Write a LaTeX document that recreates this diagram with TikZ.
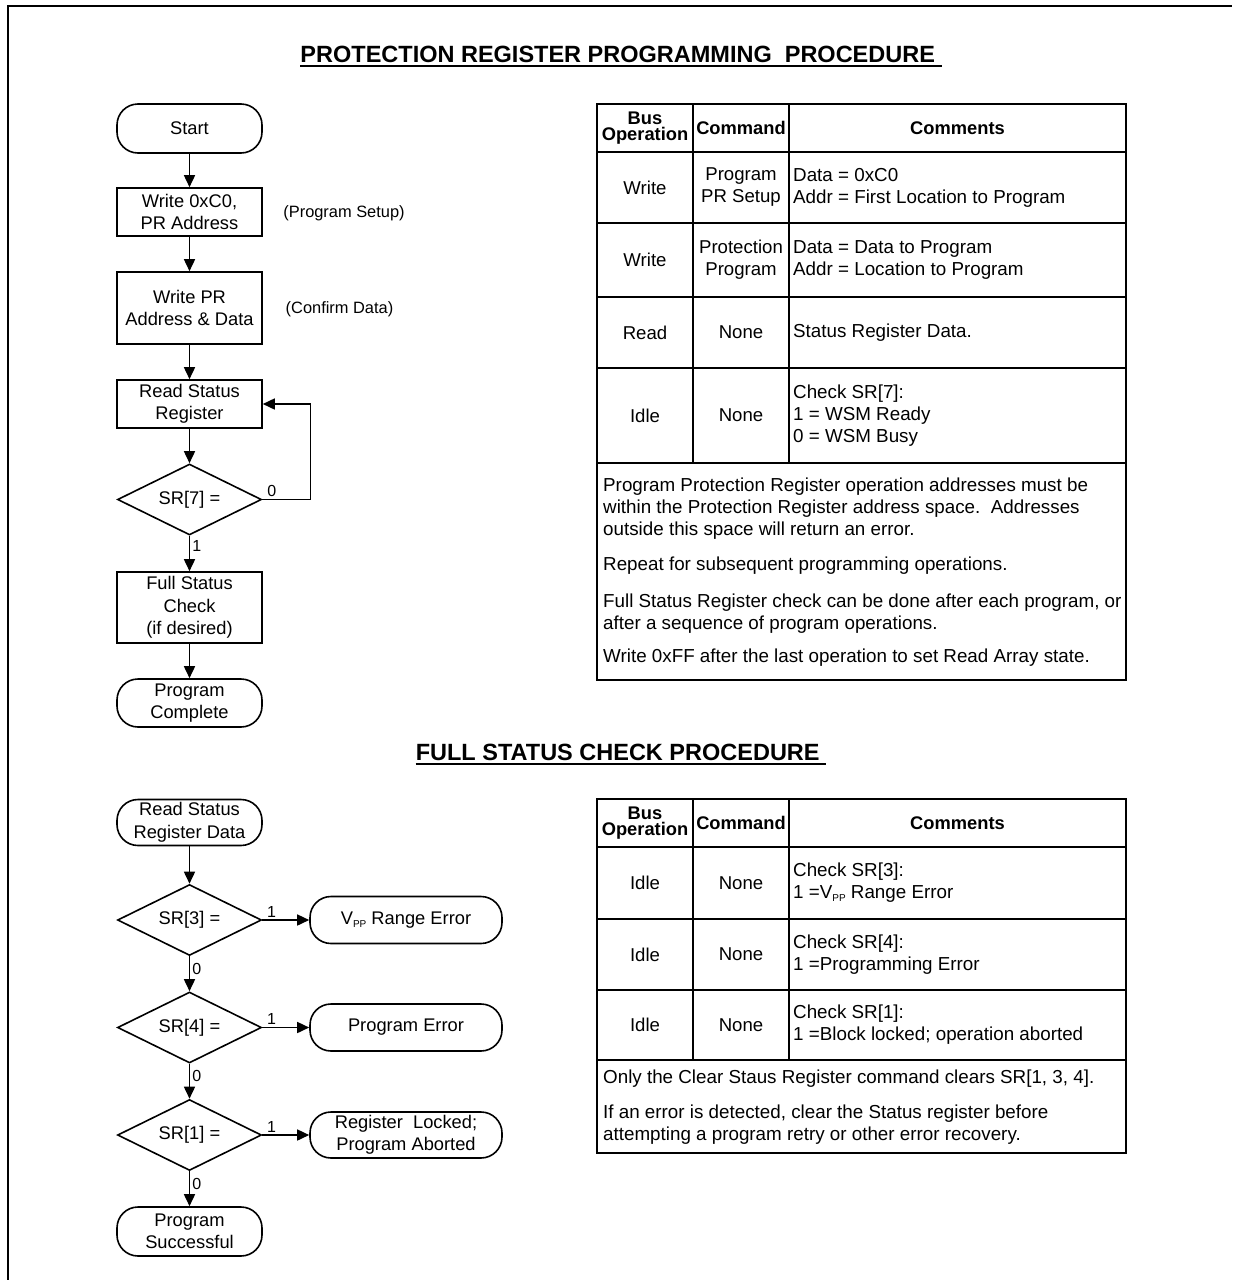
\documentclass[tikz,border=0pt]{standalone}
\usepackage{fontspec}
\setmainfont{Liberation Sans}
\usetikzlibrary{arrows.meta,shapes.geometric,positioning}
\tikzset{
	base text/.style={font=\fontsize{18.3}{22.5}\selectfont, align=center},
	procbox/.style={base text, draw, line width=1.6pt, minimum width=145pt, inner sep=0pt},
	termbox/.style={procbox, rounded corners=21pt},
	decbox/.style={base text, draw, diamond, aspect=2, line width=1.6pt,
		minimum width=144pt, minimum height=71pt, inner sep=0pt},
	flow/.style={line width=1.6pt, -{Triangle[length=12pt,width=11pt]}},
	yesno/.style={font=\fontsize{16}{16}\selectfont, inner sep=2pt},
	side note/.style={font=\fontsize{16.4}{20}\selectfont, inner sep=0pt},
	tbl/.style={line width=1.6pt},
	cell/.style={font=\fontsize{18.6}{22}\selectfont, align=center, inner sep=0pt},
	comment/.style={font=\fontsize{18.8}{22}\selectfont, align=left, anchor=west, inner sep=0pt},
	note/.style={font=\fontsize{18.8}{22}\selectfont, align=left, anchor=base west, inner sep=0pt},
	head/.style={font=\bfseries\fontsize{18.3}{16.5}\selectfont, align=center, inner sep=0pt},
	heading/.style={font=\bfseries\fontsize{23.5}{26}\selectfont, anchor=base, inner sep=0pt}
}
\newcommand{\vpp}{V\raisebox{-3pt}{\fontsize{10}{10}\selectfont PP}}

\begin{document}
\begin{tikzpicture}[x=1pt,y=-1pt]
	\useasboundingbox (0,0) rectangle (1232,1280);
	\draw[line width=2.4pt] (8,1280) -- (8,6) -- (1232,6);
	
	% titles
	\node[heading] (title1) at (621,62) {PROTECTION REGISTER PROGRAMMING\ \ PROCEDURE\ \mbox{}};
	\draw[line width=1.8pt] ([yshift=-4pt]title1.base west) -- ([yshift=-4pt]title1.base east);
	\node[heading] (title2) at (621,760) {FULL STATUS CHECK PROCEDURE\ \mbox{}};
	\draw[line width=1.8pt] ([yshift=-4pt]title2.base west) -- ([yshift=-4pt]title2.base east);
	
	% programming flow
	\node[termbox, minimum height=49pt] (start) at (189.5,128.5) {Start};
	\node[procbox, minimum height=48pt] (setup) at (189.5,212) {Write 0xC0,\\PR Address};
	\node[procbox, minimum height=72pt] (wrdata) at (189.5,308) {Write PR\\Address \& Data};
	\node[procbox, minimum height=48pt] (rdsr) at (189.5,404) {Read Status\\Register};
	\node[decbox] (sr7) at (189.5,499.5) {SR[7] =};
	\node[procbox, minimum height=71pt] (fsc) at (189.5,607.5) {Full Status\\Check\\(if desired)};
	\node[termbox, minimum height=48pt] (pgmdone) at (189.5,703) {Program\\Complete};
	
	\node[side note] (setupnote) at (344,213) {(Program Setup)};
	\node[side note] (confnote) at (339.5,309) {(Confirm Data)};
	
	\draw[flow] (start) -- (setup);
	\draw[flow] (setup) -- (wrdata);
	\draw[flow] (wrdata) -- (rdsr);
	\draw[flow] (rdsr) -- (sr7);
	\draw[flow] (sr7.east) -- node[yesno, above, pos=0.2] {0} ++(48,0) |- (rdsr.east);
	\draw[flow] (sr7) -- node[yesno, right, pos=0.3] {1} (fsc);
	\draw[flow] (fsc) -- (pgmdone);
	
	% full status check flow
	\node[termbox, minimum height=46pt] (rdsrd) at (189.5,822.5) {Read Status\\Register Data};
	\node[decbox] (sr3) at (189.5,920) {SR[3] =};
	\node[termbox, minimum width=192pt, minimum height=47pt] (vpperr) at (406,920) {\vpp\ Range Error};
	\node[decbox] (sr4) at (189.5,1027.5) {SR[4] =};
	\node[termbox, minimum width=192pt, minimum height=47pt] (pgmerr) at (406,1027.5) {Program Error};
	\node[decbox] (sr1) at (189.5,1135) {SR[1] =};
	\node[termbox, minimum width=192pt, minimum height=46pt] (reglock) at (406,1135) {Register\ \ Locked;\\Program Aborted};
	\node[termbox, minimum height=49pt] (pgmok) at (189.5,1231.5) {Program\\Successful};
	
	\draw[flow] (rdsrd) -- (sr3);
	\foreach \d/\t in {sr3/vpperr, sr4/pgmerr, sr1/reglock}
		\draw[flow] (\d) -- node[yesno, above, pos=0.2] {1} (\t);
	\foreach \d/\t in {sr3/sr4, sr4/sr1, sr1/pgmok}
		\draw[flow] (\d) -- node[yesno, right, pos=0.35] {0} (\t);
	
	% programming table
	\draw[tbl] (597,104) rectangle (1126,680);
	\foreach \y in {152,223,297,368,463}
		\draw[tbl] (597,\y) -- (1126,\y);
	\foreach \x in {693,789}
		\draw[tbl] (\x,104) -- (\x,463);
	\node[head] (busop1) at (645,128) {Bus\\Operation};
	\node[head] (cmd1) at (741,128) {Command};
	\node[head] (cmt1) at (957.5,128) {Comments};
	
	\node[cell] (op1) at (645,187.5) {Write};
	\node[cell] (cm1) at (741,187.5) {Program\\PR Setup};
	\node[comment] (ct1) at (793,187.5) {Data = 0xC0\\Addr = First Location to Program};
	\node[cell] (op2) at (645,260) {Write};
	\node[cell] (cm2) at (741,260) {Protection\\Program};
	\node[comment] (ct2) at (793,260) {Data = Data to Program\\Addr = Location to Program};
	\node[cell] (op3) at (645,332.5) {Read};
	\node[cell] (cm3) at (741,332.5) {None};
	\node[comment] (ct3) at (793,332.5) {Status Register Data.};
	\node[cell] (op4) at (645,415.5) {Idle};
	\node[cell] (cm4) at (741,415.5) {None};
	\node[comment] (ct4) at (793,415.5) {Check SR[7]:\\1 = WSM Ready\\0 = WSM Busy};
	
	\node[note] (pnote1) at (603,535) {Program Protection Register operation addresses must be\\within the Protection Register address space.\ \ Addresses\\outside this space will return an error.};
	\node[note] (pnote2) at (603,570) {Repeat for subsequent programming operations.};
	\node[note] (pnote3) at (603,629) {Full Status Register check can be done after each program, or\\after a sequence of program operations.};
	\node[note] (pnote4) at (603,662) {Write 0xFF after the last operation to set Read Array state.};
	
	% status check table
	\draw[tbl] (597,799) rectangle (1126,1153);
	\foreach \y in {847,919,990,1060}
		\draw[tbl] (597,\y) -- (1126,\y);
	\foreach \x in {693,789}
		\draw[tbl] (\x,799) -- (\x,1060);
	\node[head] (busop2) at (645,823) {Bus\\Operation};
	\node[head] (cmd2) at (741,823) {Command};
	\node[head] (cmt2) at (957.5,823) {Comments};
	
	\node[cell] (op5) at (645,883) {Idle};
	\node[cell] (cm5) at (741,883) {None};
	\node[comment] (ct5) at (793,883) {Check SR[3]:\\1 =\vpp\ Range Error};
	\node[cell] (op6) at (645,954.5) {Idle};
	\node[cell] (cm6) at (741,954.5) {None};
	\node[comment] (ct6) at (793,954.5) {Check SR[4]:\\1 =Programming Error};
	\node[cell] (op7) at (645,1025) {Idle};
	\node[cell] (cm7) at (741,1025) {None};
	\node[comment] (ct7) at (793,1025) {Check SR[1]:\\1 =Block locked; operation aborted};
	
	\node[note] (snote1) at (603,1083) {Only the Clear Staus Register command clears SR[1, 3, 4].};
	\node[note] (snote2) at (603,1140) {If an error is detected, clear the Status register before\\attempting a program retry or other error recovery.};
\end{tikzpicture}
\end{document}
